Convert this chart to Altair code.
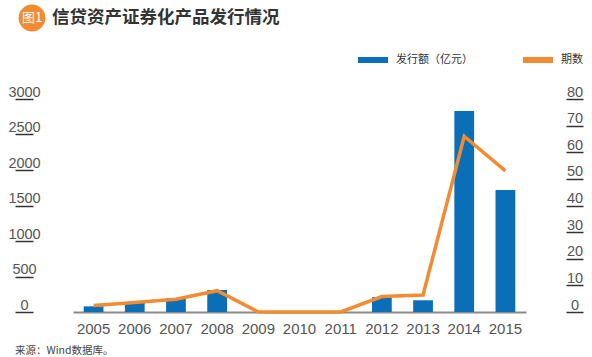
import altair as alt
import pandas as pd

years = ["2005", "2006", "2007", "2008", "2009", "2010", "2011", "2012", "2013", "2014", "2015"]
amount = [80, 130, 190, 310, 0, 0, 0, 210, 165, 2830, 1720]
counts = [2.4, 3.6, 4.8, 8, 0, 0, 0, 5.8, 6.4, 66, 53]
left_ticks = [0, 500, 1000, 1500, 2000, 2500, 3000]
right_ticks = [0, 10, 20, 30, 40, 50, 60, 70, 80]
series_names = ["发行额（亿元）", "期数"]
title_text = "信贷资产证券化产品发行情况"
badge_text = "图1"
source_text = "来源：Wind数据库。"

BLUE = "#0B6FB8"
ORANGE = "#F28B32"
FONT = "Liberation Sans"
CJK = "Noto Sans CJK SC"

df = pd.DataFrame({"year": years, "amount": amount, "count": counts,
                   "s1": series_names[0], "s2": series_names[1]})

xenc = alt.X("year:N", sort=years,
             scale=alt.Scale(paddingInner=0.52, paddingOuter=0.26),
             axis=alt.Axis(title=None, labelAngle=0, ticks=False, grid=False,
                           domainColor="#8a8a8a", domainWidth=2,
                           labelFontSize=15, labelColor="#555", labelFont=FONT,
                           labelPadding=9))

color = alt.Color("series:N",
                  scale=alt.Scale(domain=series_names, range=[BLUE, ORANGE]),
                  legend=alt.Legend(title=None, orient="none", direction="horizontal",
                                    legendX=285, legendY=-54,
                                    symbolType="M-1,-0.2L1,-0.2L1,0.2L-1,0.2Z",
                                    symbolSize=900, symbolStrokeWidth=0,
                                    labelFont=CJK, labelFontSize=11, labelColor="#333",
                                    columnPadding=50, labelOffset=8))

bars = alt.Chart(df).transform_calculate(series="datum.s1").mark_bar(color=BLUE).encode(
    x=xenc,
    y=alt.Y("amount:Q", scale=alt.Scale(domain=[0, 3000], nice=False),
            axis=alt.Axis(title=None, values=left_ticks, format="d", domain=False,
                          grid=False, ticks=True, tickSize=18, tickWidth=1.5,
                          tickColor="#333", offset=40, labelAlign="center",
                          labelPadding=-9, labelBaseline="alphabetic", labelOffset=-3,
                          labelFontSize=14.5, labelColor="#555", labelFont=FONT)),
    color=color,
)

line = alt.Chart(df).transform_calculate(series="datum.s2").mark_line(
    color=ORANGE, strokeWidth=3.5, strokeJoin="miter").encode(
    x=alt.X("year:N", sort=years),
    y=alt.Y("count:Q", scale=alt.Scale(domain=[0, 80], nice=False),
            axis=alt.Axis(title=None, values=right_ticks, format="d", orient="right",
                          domain=False, grid=False, ticks=True, tickSize=17,
                          tickWidth=1.5, tickColor="#333", offset=40,
                          labelAlign="center", labelPadding=-8.5,
                          labelBaseline="alphabetic", labelOffset=-3,
                          labelFontSize=14.5, labelColor="#555", labelFont=FONT)),
    color=color,
)

deco = pd.DataFrame({"t": [title_text]})
badge = alt.Chart(deco).mark_circle(size=720, color=ORANGE, opacity=1).encode(
    x=alt.value(-41), y=alt.value(-81))
badge_t = alt.Chart(pd.DataFrame({"t": [badge_text]})).mark_text(
    font=CJK, fontSize=13, color="white", align="center", baseline="middle").encode(
    text="t:N", x=alt.value(-41), y=alt.value(-81))
title = alt.Chart(deco).mark_text(
    font=CJK, fontSize=17.5, fontWeight="bold", color="#333", align="left",
    baseline="middle").encode(text="t:N", x=alt.value(-21), y=alt.value(-81))
source = alt.Chart(pd.DataFrame({"t": [source_text]})).mark_text(
    font=CJK, fontSize=10.5, color="#444", align="left", baseline="middle").encode(
    text="t:N", x=alt.value(-58), y=alt.value(252))

chart = alt.layer(bars, line, badge, badge_t, title, source).resolve_scale(
    y="independent").properties(
    width=453, height=213,
    autosize=alt.AutoSizeParams(type="none"),
    padding={"left": 73, "top": 99, "right": 66, "bottom": 45},
    background="white",
).configure_view(stroke=None)

chart.save("out.html", embed_options={"renderer": "svg", "actions": False})
